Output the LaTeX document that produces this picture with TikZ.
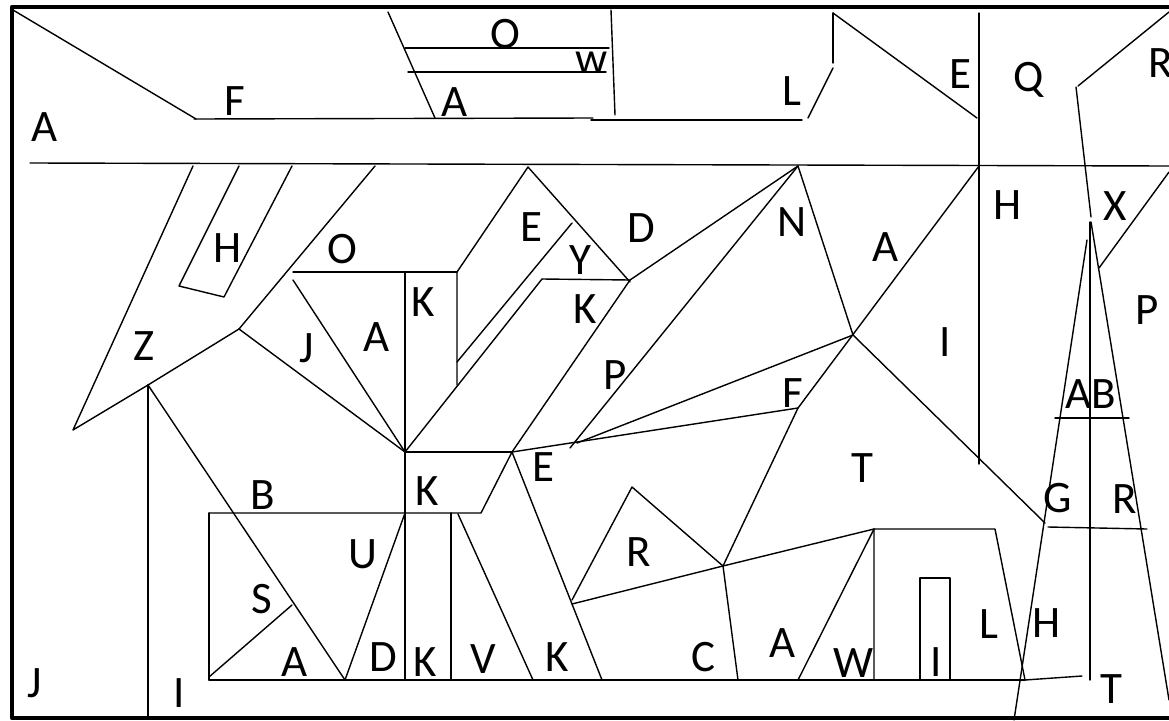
\documentclass[tikz,border=0pt]{standalone}
\usepackage{fontspec}
\setmainfont{Carlito}
\begin{document}
\begin{tikzpicture}[x=1pt,y=-1pt,line cap=round,line join=round,
  ln/.style={line width=1.4pt},
  frame/.style={line width=4.5pt},
  lbl/.style={font=\fontsize{45}{45}\selectfont,inner sep=0pt,anchor=center}]
\useasboundingbox (0,0) rectangle (1169,720);
\begin{scope}
\clip (0,0) rectangle (1169,720);
\draw[frame] (12,7) rectangle (1200,718);
% key vertices
\coordinate (nApex) at (798,166);
\coordinate (eApex) at (528,167);
\coordinate (cen) at (853,335);
\coordinate (fBend) at (798,408);
\coordinate (rPt) at (723,566);
\coordinate (kTL) at (405,452);
\coordinate (kTR) at (512,452);
\coordinate (dPt) at (630,280);
\coordinate (zJ) at (239,329);
\coordinate (zI) at (148,385);
\coordinate (boxTL) at (874,529);
\begin{scope}[ln]
% top band
\draw (13,10) -- (196,119);
\draw (194,119) -- (593,118);
\draw (591,120) -- (802,120);
\draw (30,163) -- (1169,166);
\draw (388,12) -- (435,118);
\draw (405,48) -- (609,48);
\draw (408,72) -- (606,72);
\draw (611,10) -- (615,115);
\draw (833,13) -- (833,63);
\draw (833,68) -- (808,118);
\draw (833,13) -- (977,118);
\draw (979,13) -- (979,464);
\draw (1078,86) -- (1169,12);
\draw (1076,87) -- (1091,217);
\draw (1169,172) -- (1099,268);
% spire
\draw (1087,240) -- (1014,720);
\draw (1090,222) -- (1090,680);
\draw (1091,222) -- (1169,700);
\draw (1055,418) -- (1129,418);
\draw (1048,527) -- (1147,529);
\draw (1025,680) -- (1082,676);
% bottom structure
\draw (209,680) -- (1025,680);
\draw (874,680) -- (boxTL) -- (995,529) -- (1025,680);
\draw (rPt) -- (boxTL);
\draw (boxTL) -- (798,680);
\draw (920,680) -- (920,578) -- (950,578) -- (950,680);
% centre fan
\draw (rPt) -- (fBend);
\draw (979,166) -- (fBend);
\draw (kTR) -- (fBend);
\draw (577,443) -- (cen);
\draw (nApex) -- (570,448);
\draw (dPt) -- (nApex);
\draw (nApex) -- (cen);
\draw (cen) -- (1045,523);
% E triangle and K parallelogram
\draw (eApex) -- (457,272) -- (457,385);
\draw (eApex) -- (630,282);
\draw (572,223) -- (457,362);
\draw (542,279) -- (dPt);
\draw (542,279) -- (kTL);
\draw (dPt) -- (kTR);
% left side
\draw (405,272) -- (405,680);
\draw (293,272) -- (457,272);
\draw (293,280) -- (kTL);
\draw (zJ) -- (kTL);
\draw (zJ) -- (375,166);
\draw (193,166) -- (73,430) -- (zI) -- (zJ);
\draw (239,166) -- (179,286) -- (224,297) -- (292,166);
\draw (zI) -- (148,718);
\draw (zI) -- (345,680);
\draw (209,513) -- (481,513) -- (kTR);
\draw (kTL) -- (kTR);
\draw (209,513) -- (209,680);
\draw (209,677) -- (292,605);
\draw (345,680) -- (405,513);
\draw (451,513) -- (451,680);
\draw (458,514) -- (533,680);
\draw (kTR) -- (602,680);
\draw (572,600) -- (632,487) -- (rPt);
\draw (572,604) -- (rPt);
\draw (rPt) -- (738,680);
\end{scope}
% labels
\node[lbl] (l1) at (45,127) {A};
\node[lbl] (l2) at (235,101) {F};
\node[lbl] (l3) at (505,34) {O};
\node[lbl] (l4) at (592,63) {w};
\node[lbl] (l5) at (455,102) {A};
\node[lbl] (l6) at (792,91) {L};
\node[lbl] (l7) at (960,74) {E};
\node[lbl] (l8) at (1029,80) {Q};
\node[lbl] (l9) at (1161,63) {R};
\node[lbl] (l10) at (1008,205) {H};
\node[lbl] (l11) at (1115,206) {X};
\node[lbl] (l12) at (1147,310) {P};
\node[lbl] (l13) at (228,248) {H};
\node[lbl] (l14) at (342,249) {O};
\node[lbl] (l15) at (423,302) {K};
\node[lbl] (l16) at (531,227) {E};
\node[lbl] (l17) at (641,228) {D};
\node[lbl] (l18) at (580,260) {Y};
\node[lbl] (l19) at (585,309) {K};
\node[lbl] (l20) at (792,222) {N};
\node[lbl] (l21) at (886,247) {A};
\node[lbl] (l22) at (144,346) {Z};
\node[lbl] (l23) at (307,348) {J};
\node[lbl] (l24) at (377,337) {A};
\node[lbl] (l25) at (615,375) {P};
\node[lbl] (l26) at (793,393) {F};
\node[lbl] (l27) at (945,342) {I};
\node[lbl] (l28) at (1091,394) {AB};
\node[lbl] (l29) at (263,495) {B};
\node[lbl] (l30) at (427,491) {K};
\node[lbl] (l31) at (543,467) {E};
\node[lbl] (l32) at (862,468) {T};
\node[lbl] (l33) at (1058,498) {G};
\node[lbl] (l34) at (1125,499) {R};
\node[lbl] (l35) at (363,554) {U};
\node[lbl] (l36) at (262,599) {S};
\node[lbl] (l37) at (639,552) {R};
\node[lbl] (l38) at (295,662) {A};
\node[lbl] (l39) at (383,657) {D};
\node[lbl] (l40) at (425,662) {K};
\node[lbl] (l41) at (483,659) {V};
\node[lbl] (l42) at (557,657) {K};
\node[lbl] (l43) at (703,657) {C};
\node[lbl] (l44) at (783,643) {A};
\node[lbl] (l45) at (854,663) {W};
\node[lbl] (l46) at (936,662) {I};
\node[lbl] (l47) at (989,624) {L};
\node[lbl] (l48) at (1047,623) {H};
\node[lbl] (l49) at (1111,689) {T};
\node[lbl] (l50) at (35,683) {J};
\node[lbl] (l51) at (179,693) {I};
\end{scope}
\end{tikzpicture}
\end{document}
